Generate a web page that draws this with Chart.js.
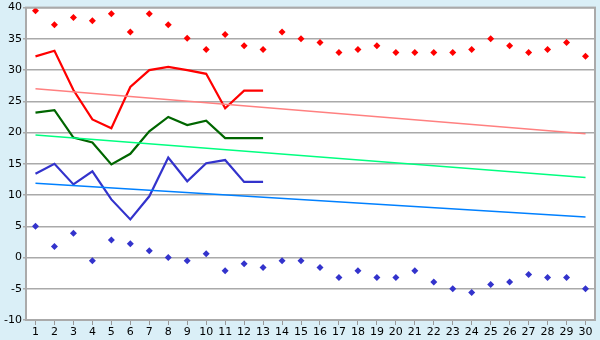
<!DOCTYPE html>
<html>
<head>
<meta charset="utf-8">
<script src="https://cdn.jsdelivr.net/npm/chart.js@4"></script>
<style>
  html, body { margin: 0; padding: 0; background: #daeff7; }
  canvas { display: block; }
</style>
</head>
<body>
<canvas id="grafico" width="600" height="340"></canvas>
<script>
// dias do mes
const days = [];
for (let d = 1; d <= 30; d++) days.push(String(d));

// maximas e minimas absolutas (pontos)
const maxRecord = [39.5, 37.25, 38.4, 37.9, 39.0, 36.1, 39.0, 37.25, 35.1, 33.3,
  35.7, 33.9, 33.3, 36.1, 35.0, 34.4, 32.8, 33.3, 33.9, 32.8,
  32.8, 32.8, 32.8, 33.3, 35.0, 33.9, 32.8, 33.3, 34.4, 32.2];
const minRecord = [5.0, 1.75, 3.9, -0.5, 2.8, 2.2, 1.1, 0.0, -0.5, 0.6,
  -2.1, -1.0, -1.6, -0.5, -0.5, -1.6, -3.2, -2.1, -3.2, -3.2,
  -2.1, -3.9, -5.0, -5.6, -4.3, -3.9, -2.7, -3.2, -3.2, -5.0];

// series do mes corrente (dias 1-13)
const maxTemp = [32.2, 33.1, 26.8, 22.1, 20.7, 27.3, 30.0, 30.5, 30.0, 29.4, 23.9, 26.7, 26.7];
const meanTemp = [23.2, 23.6, 19.2, 18.4, 14.9, 16.6, 20.2, 22.5, 21.2, 21.9, 19.1, 19.1, 19.1];
const minTemp = [13.4, 15.0, 11.7, 13.8, 9.3, 6.1, 9.8, 16.0, 12.2, 15.1, 15.6, 12.1, 12.1];

// normais (inicio e fim do mes)
const normalMax = [27.0, 19.8];
const normalMean = [19.6, 12.8];
const normalMin = [11.9, 6.5];

function trend(pair) { // linha reta do dia 1 ao dia 30
  const arr = new Array(days.length).fill(null);
  arr[0] = pair[0];
  arr[days.length - 1] = pair[1];
  return arr;
}

const fundo = {
  id: 'fundo',
  beforeDraw(chart) {
    const c = chart.ctx, a = chart.chartArea;
    c.save();
    c.fillStyle = '#daeff7';
    c.fillRect(0, 0, chart.width, chart.height);
    c.fillStyle = '#ffffff';
    c.fillRect(a.left, a.top, a.right - a.left, a.bottom - a.top);
    c.restore();
  },
  afterDraw(chart) {
    const c = chart.ctx, a = chart.chartArea;
    c.save();
    c.strokeStyle = '#aaaaaa';
    c.lineWidth = 2;
    c.strokeRect(a.left, a.top, a.right - a.left, a.bottom - a.top);
    c.restore();
  }
};

const linha = (data, color, width) => ({
  data: data, borderColor: color, backgroundColor: color,
  borderWidth: width, pointRadius: 0, tension: 0, spanGaps: true
});
const pontos = (data, color) => ({
  data: data, borderColor: color, backgroundColor: color,
  showLine: false, pointStyle: 'rectRot', pointRadius: 3.5, borderWidth: 0
});

new Chart(document.getElementById('grafico'), {
  type: 'line',
  data: {
    labels: days,
    datasets: [
      linha(trend(normalMax), '#ff8080', 1.5),
      linha(trend(normalMean), '#00ff80', 1.5),
      linha(trend(normalMin), '#0080ff', 1.5),
      linha(maxTemp, '#ff0000', 2.2),
      linha(meanTemp, '#006600', 2.2),
      linha(minTemp, '#3333cc', 2.2),
      pontos(maxRecord, '#ff0000'),
      pontos(minRecord, '#3333cc')
    ]
  },
  options: {
    responsive: false,
    animation: false,
    layout: { padding: { left: 0, right: 5, top: 5, bottom: 0 } },
    plugins: { legend: { display: false }, tooltip: { enabled: false } },
    scales: {
      x: {
        offset: true,
        grid: { drawOnChartArea: false, color: '#999999', tickLength: 5 },
        border: { color: '#aaaaaa' },
        ticks: { color: '#000', font: { family: 'DejaVu Sans', size: 11 }, padding: 1, maxRotation: 0, autoSkip: false },
        afterFit(s) { s.height = 20; }
      },
      y: {
        min: -10, max: 40,
        grid: { color: '#aaaaaa', lineWidth: 1.5, tickLength: 3 },
        border: { color: '#aaaaaa' },
        ticks: { stepSize: 5, color: '#000', font: { family: 'DejaVu Sans', size: 11 }, padding: 1 },
        afterFit(s) { s.width = 26; }
      }
    }
  },
  plugins: [fundo]
});
</script>
</body>
</html>
